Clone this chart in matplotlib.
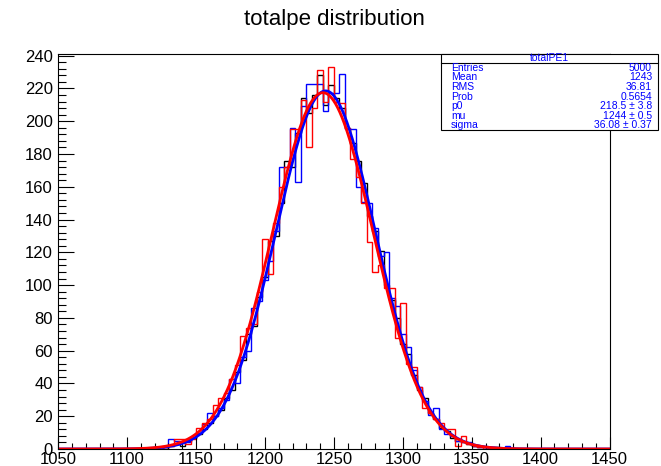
import numpy as np
import matplotlib.pyplot as plt
from matplotlib.patches import Rectangle
from matplotlib.lines import Line2D
from matplotlib.ticker import MultipleLocator

plt.rcParams['font.family'] = ['Liberation Sans', 'DejaVu Sans']

# histogram contents, 4-wide bins, first bin centred at 1124
bin_width = 4
first_center = 1124
black = [1, 0, 2, 3, 2, 5, 7, 9, 12, 16, 20, 24, 31, 36, 47, 54, 70, 75, 93, 105,
         127, 130, 150, 176, 172, 193, 214, 205, 216, 228, 210, 222, 214, 208, 196, 187,
         176, 162, 142, 133, 121, 100, 91, 80, 64, 58, 45, 36, 31, 22, 18, 13, 11, 7,
         5, 4, 3, 2, 1, 1, 0, 1, 0, 0, 0]
blue = [0, 1, 6, 5, 4, 4, 7, 10, 15, 22, 20, 25, 30, 43, 40, 56, 60, 86, 90, 103,
        115, 133, 172, 172, 196, 163, 209, 223, 223, 223, 206, 217, 217, 229, 195, 195,
        160, 151, 150, 135, 118, 120, 92, 87, 70, 62, 48, 38, 29, 21, 25, 12, 9, 8,
        5, 4, 4, 2, 1, 1, 0, 0, 0, 2, 0]
red = [1, 0, 2, 6, 6, 3, 6, 13, 16, 18, 27, 31, 34, 43, 51, 69, 74, 76, 96, 128,
       107, 138, 160, 172, 195, 195, 213, 184, 208, 231, 212, 233, 212, 211, 196, 177,
       166, 150, 126, 108, 112, 98, 98, 68, 89, 52, 50, 38, 25, 22, 18, 16, 12, 12,
       2, 8, 3, 2, 1, 0, 1, 0, 0, 0, 0]

# gaussian fits (p0, mu, sigma)
blue_fit = (218.5, 1244.0, 36.08)
red_fit = (217.4, 1242.0, 36.6)

stat_names = ['Entries', 'Mean', 'RMS', 'Prob', 'p0', 'mu', 'sigma']
stat_values = ['5000', '1243', '36.81', '0.5654', '218.5 ± 3.8', '1244 ± 0.5', '36.08 ± 0.37']

W, H = 661, 466
edges = np.arange(1050, 1451, bin_width)


def full_hist(vals):
    h = np.zeros(len(edges) - 1)
    i0 = int((first_center - bin_width / 2 - 1050) // bin_width)
    h[i0:i0 + len(vals)] = vals
    return h


def gaus(x, p):
    return p[0] * np.exp(-0.5 * ((x - p[1]) / p[2]) ** 2)


fig = plt.figure(figsize=(W / 100, H / 100), dpi=100)
ax = fig.add_axes([58.2 / W, 1 - 449 / H, (609.6 - 58.2) / W, (449 - 54) / H])

ax.stairs(full_hist(black), edges, color='black', lw=1)
ax.stairs(full_hist(blue), edges, color='blue', lw=1)
ax.stairs(full_hist(red), edges, color='red', lw=1)

xs = np.linspace(1050, 1450, 800)
ax.plot(xs, gaus(xs, blue_fit), color='blue', lw=2)
ax.plot(xs, gaus(xs, red_fit), color='red', lw=2)

ax.set_xlim(1050, 1450)
ax.set_ylim(0, 241)
ax.xaxis.set_major_locator(MultipleLocator(50))
ax.xaxis.set_minor_locator(MultipleLocator(10))
ax.yaxis.set_major_locator(MultipleLocator(20))
ax.yaxis.set_minor_locator(MultipleLocator(4))
ax.tick_params(axis='x', which='major', direction='in', length=8.6, width=0.8, pad=2.5, labelsize=12)
ax.tick_params(axis='x', which='minor', direction='in', length=4.3, width=0.8)
ax.tick_params(axis='y', which='major', direction='in', length=11.5, width=0.8, pad=4, labelsize=12)
ax.tick_params(axis='y', which='minor', direction='in', length=5.8, width=0.8)
for s in ax.spines.values():
    s.set_linewidth(0.8)

fig.text(334 / W, 1 - 19 / H, 'totalpe distribution', ha='center', va='center', fontsize=16)

# stats box
bx0, bx1, by0, by1 = 440.7, 658, 54, 130
fig.add_artist(Rectangle((bx0 / W, 1 - by1 / H), (bx1 - bx0) / W, (by1 - by0) / H,
                         transform=fig.transFigure, facecolor='white', edgecolor='black', lw=0.8))
fig.add_artist(Line2D([bx0 / W, bx1 / W], [1 - 62.7 / H, 1 - 62.7 / H],
                      transform=fig.transFigure, color='black', lw=0.8))
fig.text((bx0 + bx1) / 2 / W, 1 - 58.3 / H, 'totalPE1', ha='center', va='center',
         fontsize=7.5, color='blue')
for i, (n, v) in enumerate(zip(stat_names, stat_values)):
    y = 1 - (67.9 + i * 9.55) / H
    fig.text(451 / W, y, n, ha='left', va='center', fontsize=7.5, color='blue')
    fig.text(652 / W, y, v, ha='right', va='center', fontsize=7.5, color='blue')

fig.savefig('out.png', dpi=100)
